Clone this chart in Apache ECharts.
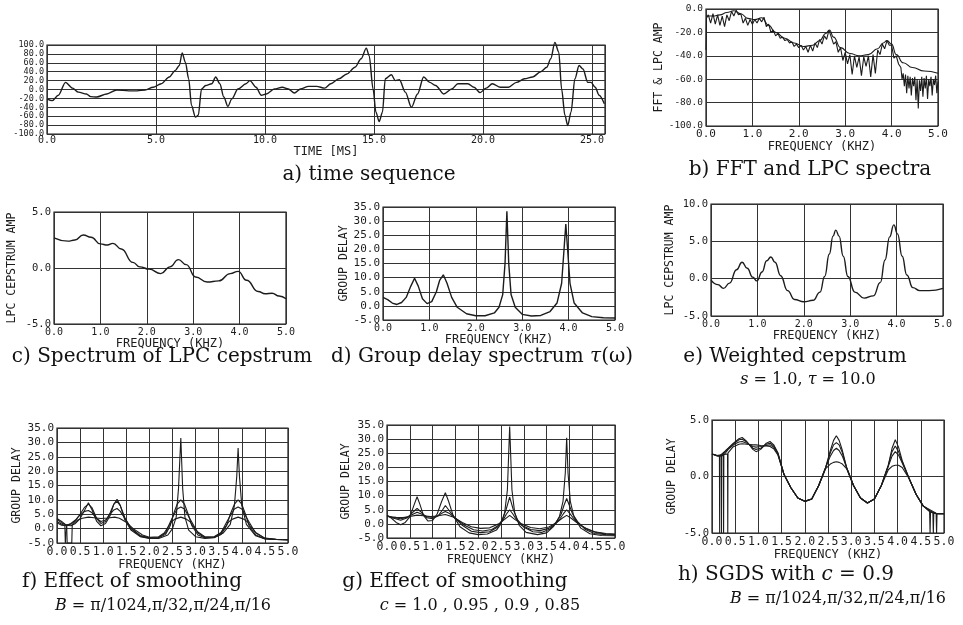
<!DOCTYPE html>
<html>
<head>
<meta charset="utf-8">
<script src="https://cdn.jsdelivr.net/npm/echarts@6/dist/echarts.min.js"></script>
<style>
  html, body { margin: 0; padding: 0; background: #fff; }
  #chart { width: 963px; height: 625px; }
</style>
</head>
<body>
<div id="chart"></div>
<script>
// a) time sequence  (ms, amplitude)
const timeMs = [0, 0.24, 0.52, 0.85, 1.17, 1.44, 1.81, 2.0, 2.28, 2.74, 3.2, 3.76, 4.13, 4.5, 4.87, 5.24, 5.61, 5.89, 6.07, 6.2, 6.35, 6.5, 6.63, 6.81, 6.94, 7.09, 7.28, 7.56, 7.74, 7.93, 8.11, 8.3, 8.48, 8.76, 9.13, 9.31, 9.59, 9.83, 10.06, 10.43, 10.8, 11.07, 11.35, 11.63, 12.0, 12.37, 12.74, 13.02, 13.39, 13.76, 14.13, 14.41, 14.65, 14.78, 14.96, 15.09, 15.24, 15.39, 15.52, 15.8, 15.98, 16.17, 16.44, 16.72, 17.0, 17.28, 17.56, 17.83, 18.2, 18.57, 18.85, 19.31, 19.59, 19.87, 20.15, 20.43, 20.8, 21.17, 21.54, 21.91, 22.28, 22.65, 22.93, 23.11, 23.3, 23.48, 23.61, 23.76, 23.89, 24.04, 24.22, 24.41, 24.59, 24.81, 24.96, 25.15, 25.33, 25.57]
const timeAmp = [-21, -25, -13, 16, 3, -6, -10, -16, -17, -10, -1, -3, -3, -1, 5, 13, 28, 43, 54, 82, 61, 24, -36, -62, -58, 1, 9, 13, 28, 13, -17, -38, -21, 1, 13, 20, 5, -13, -10, 1, 5, 1, -8, 1, 7, 7, 3, 13, 24, 35, 50, 69, 93, 76, 1, -51, -72, -51, 24, 33, 20, 22, -6, -40, -10, 28, 16, 9, -10, 1, 13, 13, 5, -7, 3, 13, 5, 5, 16, 24, 28, 40, 50, 69, 106, 84, 1, -58, -81, -51, 24, 54, 46, 16, 16, 5, -13, -32]
const ampTicks = [100, 80, 60, 40, 20, 0, -20, -40, -60, -80, -100]

// b) FFT and LPC spectra  [kHz, dB]
const fftPts = [[0.0,-35],[0.01,-8],[0.05,-5],[0.1,-12],[0.15,-4],[0.2,-13],[0.25,-5],[0.3,-14],[0.35,-6],[0.4,-15],[0.45,-5],[0.5,-10],[0.55,-2],[0.6,-6],[0.65,-1],[0.7,-5],[0.75,-4],[0.8,-12],[0.85,-8],[0.9,-14],[0.95,-9],[1.0,-13],[1.05,-9],[1.1,-12],[1.15,-8],[1.2,-11],[1.25,-7],[1.3,-15],[1.35,-13],[1.4,-20],[1.45,-18],[1.5,-23],[1.55,-21],[1.6,-25],[1.65,-24],[1.7,-27],[1.75,-26],[1.8,-29],[1.85,-28],[1.9,-32],[1.95,-30],[2.0,-33],[2.05,-31],[2.1,-35],[2.15,-32],[2.2,-37],[2.25,-31],[2.3,-36],[2.35,-29],[2.4,-33],[2.45,-26],[2.5,-30],[2.55,-23],[2.6,-26],[2.65,-18],[2.7,-24],[2.75,-30],[2.8,-28],[2.85,-37],[2.9,-33],[2.95,-44],[3.0,-37],[3.05,-47],[3.1,-39],[3.15,-56],[3.2,-40],[3.25,-50],[3.3,-41],[3.35,-57],[3.4,-41],[3.45,-49],[3.5,-40],[3.55,-58],[3.6,-39],[3.65,-55],[3.7,-35],[3.75,-39],[3.8,-30],[3.85,-34],[3.9,-27],[3.95,-31],[4.0,-31],[4.05,-42],[4.1,-40],[4.15,-47],[4.2,-50],[4.225,-60],[4.25,-55],[4.275,-66],[4.3,-56],[4.325,-72],[4.35,-57],[4.375,-68],[4.4,-58],[4.425,-74],[4.45,-59],[4.475,-66],[4.5,-58],[4.525,-78],[4.55,-60],[4.575,-85],[4.6,-61],[4.625,-70],[4.65,-58],[4.675,-75],[4.7,-59],[4.725,-68],[4.75,-57],[4.775,-77],[4.8,-60],[4.825,-66],[4.85,-58],[4.875,-74],[4.9,-60],[4.925,-65],[4.95,-57],[4.975,-72],[5.0,-62]]
const lpcPts = [[0,-6],[0.15,-6],[0.3,-5],[0.45,-3],[0.6,-1.5],[0.75,-4],[0.9,-8],[1.05,-9],[1.2,-7.5],[1.35,-14],[1.5,-20],[1.7,-25],[1.9,-29],[2.1,-32],[2.3,-31],[2.45,-27],[2.58,-21],[2.66,-18],[2.75,-24],[2.9,-33],[3.1,-38],[3.3,-40],[3.5,-39],[3.7,-34],[3.82,-29],[3.9,-27],[4.0,-30],[4.1,-39],[4.25,-46],[4.45,-50],[4.7,-53],[5.0,-55]]

// c) spectrum of LPC cepstrum
const cepPts = [[0,2.7],[0.3,2.4],[0.45,2.5],[0.63,2.95],[0.8,2.75],[1.0,2.15],[1.15,2.05],[1.27,2.2],[1.45,1.7],[1.7,0.5],[1.85,0.1],[2.05,-0.1],[2.3,-0.5],[2.5,0.1],[2.68,0.75],[2.85,0.3],[3.05,-0.8],[3.3,-1.25],[3.55,-1.15],[3.8,-0.5],[3.97,-0.3],[4.15,-1.1],[4.4,-2.1],[4.55,-2.3],[4.7,-2.25],[4.85,-2.5],[5.0,-2.75]]

// d) group delay spectrum
const gdPts = [[0,3],[0.1,2.2],[0.2,1],[0.3,0.5],[0.4,1.2],[0.5,3],[0.6,7],[0.68,9.8],[0.76,7],[0.85,2.5],[0.95,0.8],[1.05,1.5],[1.15,5],[1.22,9],[1.3,11],[1.38,8],[1.48,3],[1.6,-0.5],[1.8,-2.8],[2.0,-3.5],[2.2,-3.5],[2.4,-2.5],[2.5,-0.5],[2.58,4],[2.63,15],[2.67,33.5],[2.71,15],[2.76,4],[2.85,-0.5],[3.0,-3],[3.2,-3.6],[3.4,-3.4],[3.6,-2],[3.75,1],[3.85,8],[3.91,22],[3.94,29],[3.97,22],[4.03,8],[4.12,1],[4.3,-2.5],[4.5,-3.8],[4.75,-4.2],[5.0,-4.3]]

// e) weighted cepstrum
const wcepPts = [[0,-0.2],[0.15,-0.8],[0.27,-1.3],[0.4,-0.6],[0.55,1.2],[0.67,2.2],[0.78,1.4],[0.9,0.2],[0.99,-0.3],[1.1,0.9],[1.2,2.4],[1.29,2.9],[1.38,2.2],[1.5,0.4],[1.65,-1.6],[1.8,-2.8],[2.0,-3.1],[2.2,-2.9],[2.35,-1.8],[2.45,0.3],[2.55,3.3],[2.63,5.7],[2.69,6.5],[2.76,5.7],[2.85,3],[2.95,0.3],[3.1,-1.8],[3.3,-2.6],[3.5,-2.3],[3.65,-0.5],[3.75,2.5],[3.85,5.6],[3.94,7.2],[4.02,6.0],[4.12,3],[4.22,0.5],[4.35,-1.2],[4.5,-1.6],[4.7,-1.6],[5.0,-1.3]]

// f) smoothing, B = pi/1024, pi/32, pi/24, pi/16
const smoothB1 = [[0,3.5],[0.1,2.5],[0.2,1.2],[0.3,1.0],[0.4,1.8],[0.5,3.5],[0.6,6.5],[0.68,9],[0.76,6.5],[0.86,2.5],[0.95,1.0],[1.05,1.8],[1.15,4.5],[1.23,8.5],[1.3,10.2],[1.37,8],[1.47,3],[1.6,-0.5],[1.8,-2.8],[2.0,-3.4],[2.2,-3.4],[2.4,-2.2],[2.5,0],[2.58,4],[2.63,14],[2.68,31.5],[2.72,14],[2.77,4],[2.85,-0.5],[3.0,-2.8],[3.2,-3.4],[3.4,-3.2],[3.6,-1.5],[3.75,1.5],[3.84,8],[3.89,18],[3.92,28],[3.95,18],[4.0,8],[4.1,1.5],[4.3,-2.5],[4.5,-3.6],[4.75,-3.8],[5.0,-3.8]]
const smoothB2 = [[0,3.2],[0.1,2],[0.2,1.3],[0.3,1.5],[0.4,2.8],[0.5,5],[0.6,7.5],[0.68,8.5],[0.76,7.2],[0.86,3.5],[0.95,1.8],[1.05,2.5],[1.15,5.5],[1.23,8.5],[1.3,9.5],[1.37,8],[1.47,3.8],[1.6,0],[1.8,-2.6],[2.0,-3.3],[2.2,-3.2],[2.35,-2],[2.45,1],[2.52,5],[2.6,8.5],[2.68,10],[2.76,8.5],[2.84,5],[2.92,1],[3.05,-2.2],[3.2,-3.2],[3.4,-3.1],[3.55,-2],[3.67,1],[3.75,5],[3.84,8.5],[3.92,10],[4.0,8.5],[4.08,5],[4.16,1],[4.3,-2.2],[4.5,-3.5],[4.75,-3.8],[5.0,-3.9]]
const smoothB3 = [[0,2.5],[0.1,1.5],[0.17,1.2],[0.18,-5],[0.2,-5],[0.21,1.2],[0.3,1.8],[0.4,3],[0.5,4.8],[0.6,6],[0.68,6.3],[0.76,5.5],[0.86,3.5],[0.95,2.5],[1.05,3],[1.15,5],[1.23,6.5],[1.3,7],[1.37,6],[1.47,3.5],[1.6,0.3],[1.8,-2.4],[2.0,-3.2],[2.2,-3.1],[2.35,-1.5],[2.45,2.2],[2.52,4.5],[2.6,6.8],[2.68,7.5],[2.76,6.8],[2.84,4.5],[2.92,2.2],[3.05,-1.5],[3.2,-3.1],[3.4,-3],[3.55,-1.5],[3.67,2.2],[3.75,4.5],[3.84,6.8],[3.92,7.5],[4.0,6.8],[4.08,4.5],[4.16,2.2],[4.3,-1.5],[4.5,-3.4],[4.75,-3.8],[5.0,-3.9]]
const smoothB4 = [[0,2],[0.1,1.2],[0.21,1.0],[0.22,-5],[0.32,-5],[0.33,1.3],[0.45,3],[0.55,3.6],[0.68,4],[0.8,3.8],[0.95,3.5],[1.1,3.7],[1.25,4],[1.35,3.6],[1.5,2.2],[1.65,0],[1.85,-2.2],[2.0,-3],[2.2,-2.8],[2.32,-1.5],[2.42,1],[2.48,2.4],[2.55,3.3],[2.68,4],[2.8,3.3],[2.88,2.4],[2.94,1],[3.05,-1.2],[3.2,-2.8],[3.4,-2.8],[3.55,-1.3],[3.66,1],[3.72,2.4],[3.8,3.3],[3.92,4],[4.04,3.3],[4.12,2.4],[4.18,1],[4.3,-1.3],[4.5,-3.3],[4.75,-3.7],[5.0,-3.8]]

// g) smoothing, c = 1.0, 0.95, 0.9, 0.85
const smoothC1 = [[0,3],[0.1,2],[0.2,0.5],[0.3,-0.3],[0.4,0.5],[0.5,2.5],[0.6,7],[0.66,9.6],[0.72,7],[0.8,3],[0.9,1],[1.0,1.2],[1.1,3.5],[1.2,8],[1.28,11],[1.35,8],[1.45,3],[1.6,-1],[1.8,-3.2],[2.0,-3.8],[2.2,-3.6],[2.4,-2.2],[2.5,0],[2.58,4],[2.64,12],[2.69,34.5],[2.74,12],[2.8,4],[2.9,-0.5],[3.05,-3],[3.3,-3.8],[3.5,-3.2],[3.65,-1],[3.78,2.5],[3.86,8],[3.91,18],[3.94,30.5],[3.97,18],[4.02,8],[4.1,2.5],[4.25,-1.5],[4.45,-3.5],[4.7,-4.1],[5.0,-4.2]]
const smoothC2 = [[0,3],[0.15,2],[0.3,1.3],[0.45,2.2],[0.58,4.3],[0.66,5.5],[0.74,4.3],[0.87,2.2],[1.0,1.8],[1.13,3],[1.22,5],[1.28,6.5],[1.35,5],[1.48,2.2],[1.65,-0.5],[1.85,-2.6],[2.05,-3.1],[2.25,-2.8],[2.42,-1.2],[2.53,1.5],[2.61,5],[2.69,9.5],[2.77,5],[2.86,1.5],[3.0,-1.2],[3.2,-2.8],[3.4,-3],[3.58,-1.8],[3.72,0.8],[3.82,3.5],[3.88,6.5],[3.94,9],[4.0,6.5],[4.07,3.5],[4.18,0.8],[4.35,-2],[4.55,-3.4],[4.8,-3.8],[5.0,-3.9]]
const smoothC3 = [[0,2.8],[0.15,2.2],[0.3,1.8],[0.45,2.4],[0.58,3.5],[0.66,4.1],[0.74,3.6],[0.87,2.6],[1.0,2.3],[1.13,3],[1.22,3.9],[1.28,4.4],[1.36,3.8],[1.5,2],[1.7,-0.5],[1.9,-2.1],[2.1,-2.5],[2.3,-2],[2.45,-0.5],[2.55,1.5],[2.62,3.5],[2.69,5],[2.76,3.5],[2.84,1.5],[2.95,-0.5],[3.15,-2],[3.35,-2.4],[3.55,-1.6],[3.7,0],[3.8,2],[3.87,3.6],[3.94,5],[4.01,3.6],[4.09,2],[4.2,0],[4.4,-2],[4.6,-3.1],[4.8,-3.6],[5.0,-3.8]]
const smoothC4 = [[0,2.6],[0.2,2.3],[0.35,2.2],[0.5,2.6],[0.66,3.1],[0.8,2.9],[0.95,2.6],[1.1,2.8],[1.28,3.3],[1.45,2.4],[1.65,0.5],[1.85,-1],[2.05,-1.6],[2.25,-1.4],[2.45,0],[2.58,1.6],[2.69,3],[2.8,1.6],[2.95,0],[3.15,-1.3],[3.35,-1.7],[3.55,-1.1],[3.72,0.5],[3.84,2],[3.94,3],[4.04,2],[4.16,0.5],[4.35,-1.5],[4.55,-2.8],[4.8,-3.4],[5.0,-3.6]]

// h) SGDS with c = 0.9
const sgdsB1 = [[0,2.0],[0.1,1.85],[0.16,1.8],[0.165,-5],[0.17,1.85],[0.3,2.3],[0.45,2.9],[0.58,3.35],[0.65,3.45],[0.75,3.1],[0.88,2.4],[0.95,2.2],[1.05,2.4],[1.17,2.95],[1.25,3.1],[1.33,2.8],[1.42,2.1],[1.55,0.2],[1.7,-1.0],[1.85,-1.9],[2.0,-2.2],[2.15,-2.0],[2.3,-0.8],[2.45,0.8],[2.55,2.3],[2.62,3.2],[2.68,3.6],[2.74,3.2],[2.81,2.3],[2.9,0.8],[3.05,-0.8],[3.2,-1.9],[3.35,-2.35],[3.5,-2.0],[3.65,-0.8],[3.8,1.0],[3.88,2.5],[3.95,3.25],[4.02,2.6],[4.1,1.4],[4.25,-0.2],[4.4,-1.6],[4.55,-2.6],[4.69,-3.1],[4.7,-5],[4.71,-3.15],[4.85,-3.3],[5.0,-3.3]]
const sgdsB2 = [[0,2.0],[0.1,1.85],[0.2,1.8],[0.205,-5],[0.21,1.85],[0.3,2.3],[0.45,2.85],[0.58,3.25],[0.65,3.3],[0.75,3.05],[0.88,2.5],[0.95,2.4],[1.05,2.5],[1.17,2.85],[1.25,2.95],[1.33,2.7],[1.42,2.05],[1.55,0.2],[1.7,-1.0],[1.85,-1.9],[2.0,-2.2],[2.15,-2.0],[2.3,-0.8],[2.45,0.8],[2.55,2.1],[2.62,2.8],[2.68,3.0],[2.74,2.8],[2.81,2.1],[2.9,0.8],[3.05,-0.8],[3.2,-1.9],[3.35,-2.35],[3.5,-2.0],[3.65,-0.8],[3.8,1.0],[3.88,2.2],[3.95,2.7],[4.02,2.2],[4.1,1.3],[4.25,-0.2],[4.4,-1.6],[4.55,-2.6],[4.76,-3.2],[4.77,-5],[4.78,-3.25],[4.9,-3.3],[5.0,-3.3]]
const sgdsB3 = [[0,2.0],[0.1,1.85],[0.245,1.85],[0.25,-5],[0.255,1.9],[0.35,2.4],[0.48,2.85],[0.58,3.05],[0.65,3.1],[0.75,2.95],[0.88,2.65],[0.95,2.6],[1.05,2.65],[1.17,2.75],[1.25,2.8],[1.33,2.6],[1.42,2.0],[1.55,0.2],[1.7,-1.0],[1.85,-1.9],[2.0,-2.2],[2.15,-2.0],[2.3,-0.8],[2.45,0.8],[2.55,1.8],[2.62,2.3],[2.68,2.5],[2.74,2.3],[2.81,1.8],[2.9,0.8],[3.05,-0.8],[3.2,-1.9],[3.35,-2.35],[3.5,-2.0],[3.65,-0.8],[3.8,0.9],[3.88,1.8],[3.95,2.2],[4.02,1.9],[4.1,1.2],[4.25,-0.2],[4.4,-1.6],[4.55,-2.6],[4.83,-3.25],[4.84,-5],[4.85,-3.3],[5.0,-3.3]]
const sgdsB4 = [[0,2.0],[0.1,1.85],[0.335,2.0],[0.34,-5],[0.345,2.1],[0.45,2.6],[0.58,2.85],[0.65,2.9],[0.75,2.85],[0.88,2.8],[0.95,2.8],[1.05,2.75],[1.17,2.7],[1.25,2.65],[1.33,2.45],[1.42,1.9],[1.55,0.2],[1.7,-1.0],[1.85,-1.9],[2.0,-2.2],[2.15,-2.0],[2.3,-0.8],[2.45,0.7],[2.55,1.1],[2.62,1.25],[2.68,1.3],[2.74,1.25],[2.81,1.1],[2.9,0.7],[3.05,-0.8],[3.2,-1.9],[3.35,-2.35],[3.5,-2.0],[3.65,-0.8],[3.8,0.6],[3.88,0.9],[3.95,1.0],[4.02,1.0],[4.1,0.8],[4.25,-0.2],[4.4,-1.6],[4.55,-2.6],[4.7,-3.1],[4.85,-3.3],[5.0,-3.3]]

const PLOT_FONT = '"DejaVu Sans Mono", monospace'
const CAP_FONT = '"DejaVu Serif", serif'
const INK = '#1c1c1c'
const GRID_INK = '#333'

// plot boxes: left, top, width, height
const boxes = [
  [47, 45, 558, 89],    // a
  [706, 9, 232, 117],   // b
  [54, 212, 232, 112],  // c
  [383, 207, 232, 113], // d
  [711, 204, 232, 112], // e
  [57, 428, 231, 115],  // f
  [387, 425, 228, 113], // g
  [712, 420, 232, 113]  // h
]

const fmt1 = (step) => (v) => Math.abs(v / step - Math.round(v / step)) < 1e-6 ? v.toFixed(1) : ''

function xAx(i, min, max, step, size, name, nameGap, margin) {
  return {
    gridIndex: i, type: 'value', min, max, interval: step,
    axisLine: { show: false }, axisTick: { show: false },
    splitLine: { show: true, lineStyle: { color: GRID_INK, width: 1 } },
    axisLabel: { color: INK, fontFamily: PLOT_FONT, fontSize: size, margin: margin == null ? 3 : margin, formatter: fmt1(step) },
    name, nameLocation: 'middle', nameGap,
    nameTextStyle: { color: INK, fontFamily: PLOT_FONT, fontSize: 12 }
  }
}

function yAx(i, min, max, step, name, nameGap, size) {
  return {
    gridIndex: i, type: 'value', min, max, interval: step,
    axisLine: { show: false }, axisTick: { show: false },
    splitLine: { show: true, lineStyle: { color: GRID_INK, width: 1 } },
    axisLabel: { color: INK, fontFamily: PLOT_FONT, fontSize: size, lineHeight: size, margin: 3, showMinLabel: true, showMaxLabel: true, hideOverlap: false, formatter: (v) => v.toFixed(1) },
    name, nameLocation: 'middle', nameRotate: 90, nameGap,
    nameTextStyle: { color: INK, fontFamily: PLOT_FONT, fontSize: 11.5 }
  }
}

function line(i, data, smooth, width) {
  return {
    type: 'line', xAxisIndex: i, yAxisIndex: i, data,
    showSymbol: false, smooth: smooth || false, smoothMonotone: 'x',
    clip: false,
    lineStyle: { color: INK, width: width || 1.4 }
  }
}

function caption(x, y, text, size, rich) {
  return {
    type: 'text', x, y,
    style: {
      text, fill: '#111', font: size + 'px ' + CAP_FONT,
      textAlign: 'center', textVerticalAlign: 'middle',
      rich: rich || {}
    }
  }
}
const it = (size) => ({ i: { fontStyle: 'italic', fontFamily: CAP_FONT, fontSize: size } })

// panel a: amplitude axis drawn with every tick label from ampTicks
const ampAxis = yAx(0, -100, 100, 20, "AMP. *10'", 28, 8.5)
ampAxis.axisLabel.customValues = ampTicks
ampAxis.axisTick = { show: false, customValues: ampTicks }

const chart = echarts.init(document.getElementById('chart'))

chart.setOption({
  backgroundColor: '#fff',
  animation: false,
  grid: boxes.map(b => ({
    left: b[0], top: b[1], width: b[2], height: b[3],
    outerBoundsMode: 'none', containLabel: false,
    show: true, borderColor: '#1c1c1c', borderWidth: 1.2, backgroundColor: 'transparent'
  })),
  xAxis: [
    xAx(0, 0, 25.6, 5, 10, 'TIME [MS]', 9, 1),
    xAx(1, 0, 5, 1, 11, 'FREQUENCY (KHZ)', 12),
    xAx(2, 0, 5, 1, 10, 'FREQUENCY (KHZ)', 12),
    xAx(3, 0, 5, 1, 10, 'FREQUENCY (KHZ)', 12),
    xAx(4, 0, 5, 1, 10, 'FREQUENCY (KHZ)', 12),
    xAx(5, 0, 5, 0.5, 11.5, 'FREQUENCY (KHZ)', 12),
    xAx(6, 0, 5, 0.5, 11.5, 'FREQUENCY (KHZ)', 12),
    xAx(7, 0, 5, 0.5, 11.5, 'FREQUENCY (KHZ)', 12)
  ],
  yAxis: [
    ampAxis,
    yAx(1, -100, 0, 20, 'FFT & LPC AMP', 33, 9.5),
    yAx(2, -5, 5, 5, 'LPC CEPSTRUM AMP', 36, 10.5),
    yAx(3, -5, 35, 5, 'GROUP DELAY', 33, 11),
    yAx(4, -5, 10, 5, 'LPC CEPSTRUM AMP', 35, 10.5),
    yAx(5, -5, 35, 5, 'GROUP DELAY', 34, 11),
    yAx(6, -5, 35, 5, 'GROUP DELAY', 35, 11),
    yAx(7, -5, 5, 5, 'GROUP DELAY', 34, 10.5)
  ],
  series: [
    line(0, timeMs.map((t, k) => [t, timeAmp[k]]), 0.3),
    line(1, fftPts, false, 1.1),
    line(1, lpcPts, true, 1.1),
    line(2, cepPts, true),
    line(3, gdPts, false),
    line(4, wcepPts, true),
    line(5, smoothB1, false, 1.1), line(5, smoothB2, false, 1.1), line(5, smoothB3, false, 1.1), line(5, smoothB4, false, 1.1),
    line(6, smoothC1, false, 1.1), line(6, smoothC2, false, 1.1), line(6, smoothC3, false, 1.1), line(6, smoothC4, false, 1.1),
    line(7, sgdsB1, false, 1.1), line(7, sgdsB2, false, 1.1), line(7, sgdsB3, false, 1.1), line(7, sgdsB4, false, 1.1)
  ],
  graphic: [
    caption(369, 175, 'a) time sequence', 20),
    caption(810, 170, 'b) FFT and LPC spectra', 20),
    caption(162, 357, 'c) Spectrum of LPC cepstrum', 20),
    caption(482, 357, 'd) Group delay spectrum {i|τ}(ω)', 20, it(20)),
    caption(795, 357, 'e) Weighted cepstrum', 20),
    caption(808, 380, '{i|s} = 1.0, {i|τ} = 10.0', 16, it(16)),
    caption(132, 582, 'f) Effect of smoothing', 20),
    caption(163, 606, '{i|B} = π/1024,π/32,π/24,π/16', 16, it(16)),
    caption(455, 582, 'g) Effect of smoothing', 20),
    caption(480, 606, '{i|c} = 1.0 , 0.95 , 0.9 , 0.85', 16, it(16)),
    caption(786, 575, 'h) SGDS with {i|c} = 0.9', 20, it(20)),
    caption(838, 599, '{i|B} = π/1024,π/32,π/24,π/16', 16, it(16))
  ]
})
</script>
</body>
</html>
